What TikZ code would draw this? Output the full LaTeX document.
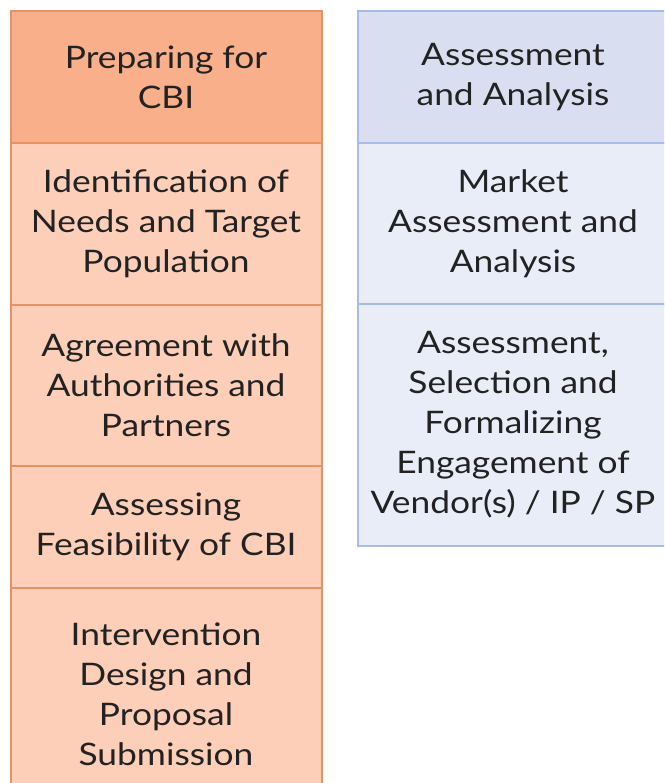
\documentclass[tikz,border=0pt]{standalone}
\usepackage{fontspec}
\setmainfont{Lato}[FakeStretch=1.14]
\usetikzlibrary{positioning}
\definecolor{prepdark}{RGB}{249,176,138}
\definecolor{preplight}{RGB}{253,206,184}
\definecolor{prepline}{RGB}{232,145,100}
\definecolor{assessdark}{RGB}{217,223,241}
\definecolor{assesslight}{RGB}{233,237,248}
\definecolor{assessline}{RGB}{168,188,232}
\definecolor{boxtext}{RGB}{34,34,34}

\tikzset{
  box/.style={draw, line width=2pt, outer sep=0pt, inner sep=0pt, align=center,
    text=boxtext, font=\fontsize{31}{40}\selectfont},
  prepbox/.style={box, draw=prepline, fill=preplight, minimum width=311pt},
  prephead/.style={prepbox, fill=prepdark},
  assessbox/.style={box, draw=assessline, fill=assesslight, minimum width=311pt},
  assesshead/.style={assessbox, fill=assessdark}
}

\begin{document}
\begin{tikzpicture}[x=1pt, y=-1pt]
  \useasboundingbox (0,0) rectangle (664,783);
  \clip (0,0) rectangle (664,783);

  % preparation column
  \node[prephead, minimum height=132pt, anchor=north west] (prep) at (10.5,11) {Preparing for\\CBI};
  \node[prepbox, minimum height=162pt, below=0pt of prep] (needs) {Identification of\\Needs and Target\\Population};
  \node[prepbox, minimum height=161pt, below=0pt of needs] (agree) {Agreement with\\Authorities and\\Partners};
  \node[prepbox, minimum height=122pt, below=0pt of agree] (feas) {Assessing\\Feasibility of CBI};
  \node[prepbox, minimum height=212pt, below=0pt of feas] (design) {Intervention\\Design and\\Proposal\\Submission};

  % assessment column
  \node[assesshead, minimum height=132pt, anchor=north west] (assess) at (357.5,11) {Assessment\\and Analysis};
  \node[assessbox, minimum height=161pt, below=0pt of assess] (market) {Market\\Assessment and\\Analysis};
  \node[assessbox, minimum height=242pt, below=0pt of market] (vendor) {Assessment,\\Selection and\\Formalizing\\Engagement of\\Vendor(s) / IP / SP};
\end{tikzpicture}
\end{document}
